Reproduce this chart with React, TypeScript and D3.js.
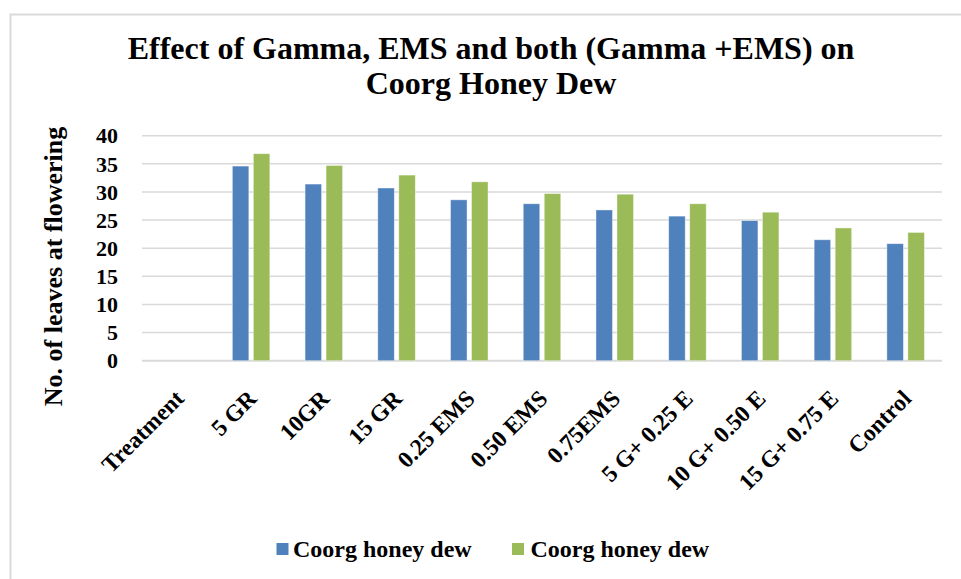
import React from "react";
import * as d3 from "d3";

const categories = [
  "Treatment",
  "5 GR",
  "10GR",
  "15 GR",
  "0.25 EMS",
  "0.50 EMS",
  "0.75EMS",
  "5 G+ 0.25 E",
  "10 G+ 0.50 E",
  "15 G+ 0.75 E",
  "Control",
];
const seriesA: (number | null)[] = [null, 34.6, 31.4, 30.7, 28.6, 27.9, 26.8, 25.7, 24.9, 21.5, 20.8];
const seriesB: (number | null)[] = [null, 36.8, 34.7, 33.0, 31.8, 29.7, 29.6, 27.9, 26.4, 23.6, 22.8];
const seriesNames = ["Coorg honey dew", "Coorg honey dew"];
const yTicks = [0, 5, 10, 15, 20, 25, 30, 35, 40];
const titleLines = ["Effect of Gamma, EMS and both (Gamma +EMS) on", "Coorg Honey Dew"];
const yTitle = "No. of leaves at flowering";

const W = 961;
const H = 579;
const FONT = "'Liberation Serif', 'Times New Roman', serif";
const COLORS = ["#4F81BD", "#9BBB59"];

export default function App() {
  const plotLeft = 142;
  const plotRight = 942;
  const plotTop = 135.7;
  const plotBottom = 360.7;

  const x = d3.scaleBand<string>().domain(categories).range([plotLeft, plotRight]).padding(0);
  const y = d3.scaleLinear().domain([0, 40]).range([plotBottom, plotTop]);
  const groupW = 37.5;
  const sub = d3
    .scaleBand<string>()
    .domain(["a", "b"])
    .range([0, groupW])
    .paddingInner(4.5 / 21)
    .paddingOuter(0);

  const series = [seriesA, seriesB];

  return (
    <svg
      width={W}
      height={H}
      style={{ position: "absolute", left: 0, top: 0, background: "#fff" }}
      fontFamily={FONT}
    >
      <rect x={0} y={0} width={W} height={H} fill="#fff" />
      <rect x={10.5} y={14.5} width={W + 20} height={H + 20} fill="none" stroke="#D9D9D9" strokeWidth={2} />

      {/* title */}
      <text x={491} textAnchor="middle" fontWeight="bold" fontSize={32} fill="#000">
        <tspan x={491} y={58.5}>{titleLines[0]}</tspan>
        <tspan x={491} y={93.5}>{titleLines[1]}</tspan>
      </text>

      {/* gridlines */}
      {yTicks.map((t) => (
        <line
          key={t}
          x1={plotLeft}
          x2={plotRight}
          y1={y(t)}
          y2={y(t)}
          stroke="#D9D9D9"
          strokeWidth={t === 0 ? 2 : 1.5}
        />
      ))}

      {/* y tick labels */}
      {yTicks.map((t) => (
        <text
          key={"l" + t}
          x={118}
          y={y(t)}
          dy="0.35em"
          textAnchor="end"
          fontWeight="bold"
          fontSize={22}
          fill="#000"
        >
          {t}
        </text>
      ))}

      {/* y title */}
      <text
        transform={`translate(61.5, 266.5) rotate(-90)`}
        textAnchor="middle"
        fontWeight="bold"
        fontSize={26}
        fill="#000"
      >
        {yTitle}
      </text>

      {/* bars */}
      {categories.map((c, i) => {
        const cx = (x(c) as number) + x.bandwidth() / 2;
        const gx = cx - groupW / 2;
        return (
          <g key={c}>
            {series.map((s, si) => {
              const v = s[i];
              if (v == null) return null;
              return (
                <rect
                  key={si}
                  x={gx + (sub(si === 0 ? "a" : "b") as number)}
                  y={y(v)}
                  width={sub.bandwidth()}
                  height={plotBottom - y(v)}
                  fill={COLORS[si]}
                  stroke="#ffffff"
                  strokeOpacity={0.5}
                  strokeWidth={0.8}
                />
              );
            })}
          </g>
        );
      })}

      {/* x labels */}
      {categories.map((c) => {
        const cx = (x(c) as number) + x.bandwidth() / 2;
        return (
          <text
            key={"x" + c}
            transform={`translate(${cx - 5}, 388) rotate(-45)`}
            textAnchor="end"
            dy="0.72em"
            fontWeight="bold"
            fontSize={23.5}
            fill="#000"
          >
            {c}
          </text>
        );
      })}

      {/* legend */}
      <rect x={276.5} y={543} width={12} height={12} fill={COLORS[0]} />
      <text x={293} y={556.5} fontWeight="bold" fontSize={24} fill="#000">
        {seriesNames[0]}
      </text>
      <rect x={512} y={543} width={12} height={12} fill={COLORS[1]} />
      <text x={530.5} y={556.5} fontWeight="bold" fontSize={24} fill="#000">
        {seriesNames[1]}
      </text>
    </svg>
  );
}
